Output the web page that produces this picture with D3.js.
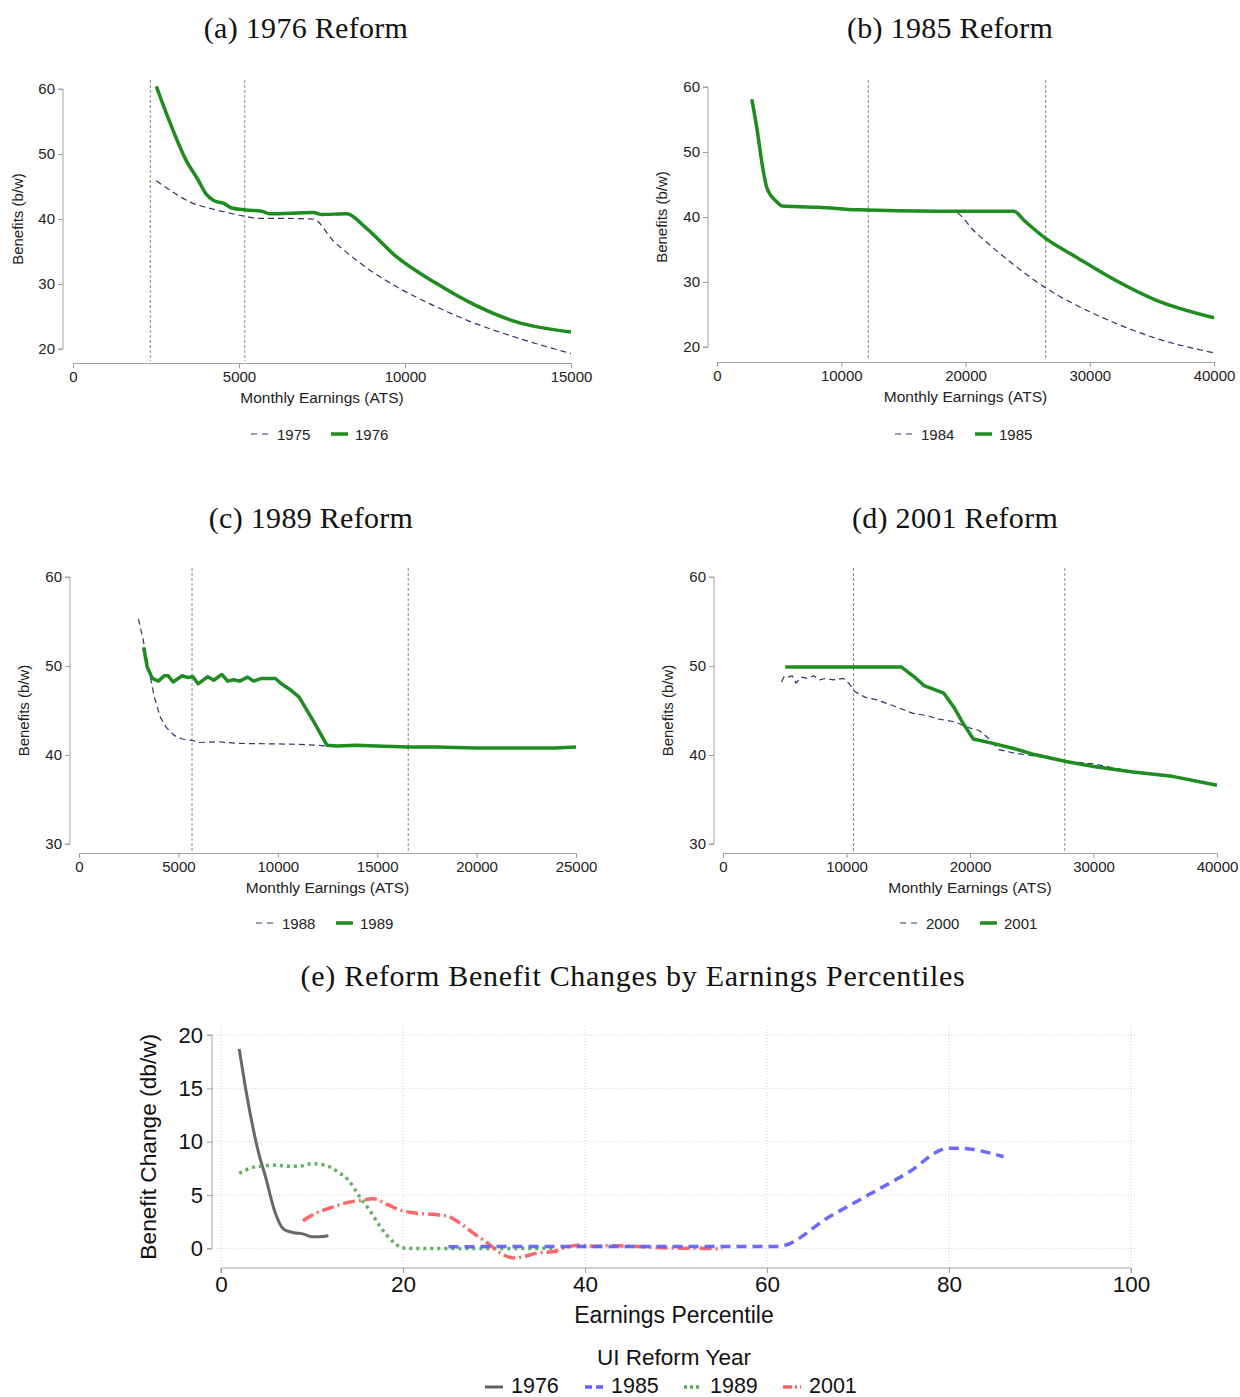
<!DOCTYPE html>
<html>
<head>
<meta charset="utf-8">
<script src="https://cdn.jsdelivr.net/npm/d3@7"></script>
<style>
  html, body { margin: 0; padding: 0; background: #fff; }
  svg { display: block; }
</style>
</head>
<body>
<svg id="chart" width="1240" height="1397"></svg>
<script>
// ---------------- DATA ----------------
// Panel (a) 1976 Reform
const a1975X = [2510, 2930, 3530, 4240, 5200, 5560, 6160, 7230, 7830, 8550, 9740, 10940, 12130, 13330, 15000];
const a1975Y = [45.9, 44.4, 42.6, 41.5, 40.4, 40.1, 40.1, 40.0, 36.7, 33.6, 29.6, 26.5, 23.9, 21.8, 19.3];
const a1976X = [2510, 2930, 3400, 3770, 4000, 4250, 4540, 4780, 5200, 5680, 5920, 7230, 7470, 8250, 8790, 9740, 10940, 12130, 13330, 15000];
const a1976Y = [60.4, 54.7, 49.1, 46.0, 43.9, 42.8, 42.4, 41.7, 41.4, 41.2, 40.8, 41.0, 40.7, 40.8, 38.8, 34.2, 30.1, 26.7, 24.2, 22.6];
const aVLines = [2330, 5175];
const aXTicks = [0, 5000, 10000, 15000];
const aYTicks = [20, 30, 40, 50, 60];

// Panel (b) 1985 Reform
const b1984X = [2800, 3190, 3670, 3980, 4300, 4780, 5260, 6220, 8130, 11300, 17700, 18960, 20880, 24060, 26450, 28850, 32030, 35220, 40000];
const b1984Y = [58.1, 53.9, 47.7, 44.7, 43.4, 42.4, 41.7, 41.6, 41.5, 41.1, 40.9, 40.9, 37.5, 32.4, 29.1, 26.5, 23.7, 21.4, 19.1];
const b1985X = [2800, 3190, 3670, 3980, 4300, 4780, 5260, 6220, 8130, 11300, 17700, 23900, 24700, 26450, 28850, 32030, 35220, 40000];
const b1985Y = [58.1, 53.9, 47.7, 44.7, 43.4, 42.4, 41.7, 41.6, 41.5, 41.1, 40.9, 40.9, 39.5, 36.7, 33.9, 30.3, 27.3, 24.5];
const bVLines = [12175, 26454];
const bXTicks = [0, 10000, 20000, 30000, 40000];
const bYTicks = [20, 30, 40, 50, 60];

// Panel (c) 1989 Reform
const c1988X = [2990, 3230, 3490, 3790, 4090, 4390, 4790, 5190, 5790, 5990, 6980, 7980, 9980, 10970, 11970, 12470, 14000, 17000, 20000, 23000, 25000];
const c1988Y = [55.3, 52.9, 49.9, 46.5, 44.25, 43.1, 42.2, 41.8, 41.6, 41.4, 41.5, 41.3, 41.25, 41.2, 41.1, 41.0, 41.0, 40.9, 40.8, 40.8, 40.8];
const c1989X = [3250, 3430, 3690, 3990, 4290, 4490, 4730, 5190, 5490, 5730, 5990, 6480, 6780, 7180, 7480, 7780, 8080, 8480, 8780, 9180, 9880, 10180, 10680, 11070, 11770, 12470, 12970, 13970, 14960, 16560, 17960, 19950, 21950, 23940, 25000];
const c1989Y = [52.1, 49.9, 48.6, 48.3, 48.9, 48.9, 48.2, 48.9, 48.7, 48.8, 48.0, 48.8, 48.4, 49.05, 48.3, 48.45, 48.3, 48.75, 48.3, 48.6, 48.6, 48.0, 47.25, 46.5, 43.9, 41.1, 41.0, 41.1, 41.0, 40.9, 40.9, 40.8, 40.8, 40.8, 40.9];
const cVLines = [5686, 16560];
const cXTicks = [0, 5000, 10000, 15000, 20000, 25000];
const cYTicks = [30, 40, 50, 60];

// Panel (d) 2001 Reform
const d2000X = [4730, 4950, 5270, 5590, 5910, 6380, 6860, 7340, 7820, 8300, 8940, 9740, 10220, 10700, 11490, 12450, 14050, 15320, 16600, 17240, 18840, 19790, 20750, 21390, 22350, 23620, 25220, 27680, 30010, 33200, 36390, 37990, 40000];
const d2000Y = [48.2, 48.8, 48.75, 48.9, 48.1, 48.75, 48.6, 48.9, 48.45, 48.6, 48.45, 48.6, 48.0, 47.1, 46.5, 46.2, 45.4, 44.7, 44.4, 44.1, 43.7, 43.1, 42.75, 42.0, 40.6, 40.2, 39.9, 39.3, 39.0, 38.1, 37.55, 37.1, 36.6];
const d2001X = [5040, 14430, 15640, 16280, 17880, 18680, 19470, 20270, 22030, 23620, 25220, 27680, 30010, 33200, 36390, 40000];
const d2001Y = [49.9, 49.9, 48.6, 47.8, 46.95, 45.4, 43.5, 41.8, 41.25, 40.7, 40.05, 39.3, 38.7, 38.1, 37.6, 36.6];
const dVLines = [10567, 27678];
const dXTicks = [0, 10000, 20000, 30000, 40000];
const dYTicks = [30, 40, 50, 60];

// Panel (e) Reform benefit changes by earnings percentile
const e1976X = [2.0, 2.6, 3.35, 4.15, 4.9, 5.9, 6.9, 7.9, 9.1, 10.0, 10.8, 11.8];
const e1976Y = [18.7, 15.5, 12.0, 8.9, 6.7, 3.5, 1.8, 1.5, 1.35, 1.1, 1.1, 1.2];
const e1985X = [25, 30, 35, 40, 45, 50, 55, 61.2, 66.9, 71.1, 75.4, 80, 80.9, 86];
const e1985Y = [0.16, 0.18, 0.18, 0.19, 0.19, 0.18, 0.18, 0.19, 3.0, 5.0, 7.05, 9.4, 9.4, 8.6];
const e1989X = [2.0, 3.0, 4.1, 6.1, 7.3, 8.5, 10.0, 11.8, 12.8, 14.0, 15.2, 16.4, 17.5, 19.1, 19.9, 21.5, 25.4, 29.4, 33.3, 36.8];
const e1989Y = [7.05, 7.45, 7.7, 7.8, 7.7, 7.7, 7.95, 7.7, 7.2, 6.4, 4.9, 3.5, 2.05, 0.5, 0.05, 0, 0, 0, 0, 0.03];
const e2001X = [9.0, 10.4, 12.0, 13.6, 15.2, 16.75, 18.3, 19.9, 21.5, 23.4, 25.0, 26.2, 27.8, 29.4, 30.9, 32.3, 33.3, 34.9, 36.5, 38.0, 39.2, 41.2, 42.4, 45.8, 47.9, 50.0, 52.1, 55.1];
const e2001Y = [2.6, 3.3, 3.8, 4.25, 4.5, 4.65, 4.1, 3.55, 3.3, 3.2, 3.0, 2.4, 1.4, 0.44, -0.53, -0.9, -0.75, -0.4, -0.3, 0.12, 0.3, 0.2, 0.25, 0.19, 0.09, 0.03, 0.03, -0.06];
const eXTicks = [0, 20, 40, 60, 80, 100];
const eYTicks = [0, 5, 10, 15, 20];
const eSeriesNames = ["1976", "1985", "1989", "2001"];

// ---------------- DRAW ----------------
const svg = d3.select("#chart");
const SANS = "'Liberation Sans', Arial, sans-serif";
const SERIF = "'Liberation Serif', 'Times New Roman', serif";
const AXIS_COL = "#a0a0a0";
const GREEN = "#1e8c1e";
const NAVY = "#2a3866";

function zip(xs, ys) { return xs.map((x, i) => ({x: x, y: ys[i]})); }

function reformPanel(cfg) {
  const g = svg.append("g");
  const x = d3.scaleLinear().domain(cfg.xDomain).range([cfg.x0, cfg.x1]);
  const y = d3.scaleLinear().domain(cfg.yDomain).range([cfg.yBot, cfg.yTop]);

  // title
  g.append("text").attr("x", cfg.titleX).attr("y", cfg.titleY)
    .attr("text-anchor", "middle").attr("font-family", SERIF)
    .attr("font-size", 30).attr("letter-spacing", 0.3).attr("fill", "#111").text(cfg.title);

  // y axis
  const yAx = g.append("g").attr("transform", `translate(${cfg.yAxisX},0)`)
    .call(d3.axisLeft(y).tickValues(cfg.yTicks).tickSize(5).tickPadding(3).tickFormat(d3.format("d")));
  yAx.select(".domain").attr("stroke", AXIS_COL).attr("d", `M-5,${y(cfg.yTicks[cfg.yTicks.length-1])}H0V${y(cfg.yTicks[0])}H-5`);
  yAx.selectAll(".tick line").attr("stroke", AXIS_COL);
  yAx.selectAll("text").attr("font-family", SANS).attr("font-size", 15).attr("fill", "#222");

  // x axis
  const xAx = g.append("g").attr("transform", `translate(0,${cfg.xAxisY})`)
    .call(d3.axisBottom(x).tickValues(cfg.xTicks).tickSize(5).tickPadding(3).tickFormat(d3.format("d")));
  xAx.select(".domain").attr("stroke", AXIS_COL);
  xAx.selectAll(".tick line").attr("stroke", AXIS_COL);
  xAx.selectAll("text").attr("font-family", SANS).attr("font-size", 15).attr("fill", "#222");

  // axis titles
  g.append("text").attr("x", (cfg.x0 + cfg.x1) / 2).attr("y", cfg.xAxisY + 40)
    .attr("text-anchor", "middle").attr("font-family", SANS).attr("font-size", 15.5)
    .attr("fill", "#222").text("Monthly Earnings (ATS)");
  g.append("text").attr("transform", `translate(${cfg.yTitleX},${(y(cfg.yDomain[0]) + y(cfg.yDomain[1])) / 2}) rotate(-90)`)
    .attr("text-anchor", "middle").attr("font-family", SANS).attr("font-size", 15)
    .attr("fill", "#222").text("Benefits (b/w)");

  // vertical reference lines
  g.selectAll(".vl").data(cfg.vlines).enter().append("line")
    .attr("x1", d => x(d)).attr("x2", d => x(d))
    .attr("y1", cfg.vTop).attr("y2", cfg.xAxisY - 2)
    .attr("stroke", "#8a8a8a").attr("stroke-width", 1).attr("stroke-dasharray", "3,2");

  const line = d3.line().x(d => x(d.x)).y(d => y(d.y)).curve(d3.curveMonotoneX);
  const lineLin = d3.line().x(d => x(d.x)).y(d => y(d.y));

  g.append("path").datum(zip(cfg.oldX, cfg.oldY)).attr("d", cfg.linear ? lineLin : line)
    .attr("fill", "none").attr("stroke", NAVY).attr("stroke-width", 1.2).attr("stroke-dasharray", "6,4");
  g.append("path").datum(zip(cfg.newX, cfg.newY)).attr("d", cfg.linear ? lineLin : line)
    .attr("fill", "none").attr("stroke", GREEN).attr("stroke-width", 3.5).attr("stroke-linejoin", "round");

  // legend
  const lg = g.append("g").attr("transform", `translate(${cfg.legX},${cfg.legY})`);
  lg.append("line").attr("x1", 0).attr("x2", 19).attr("y1", 0).attr("y2", 0)
    .attr("stroke", NAVY).attr("stroke-width", 1.2).attr("stroke-dasharray", "6,5");
  lg.append("text").attr("x", 26).attr("y", 5.5).attr("font-family", SANS).attr("font-size", 15)
    .attr("fill", "#222").text(cfg.oldName);
  lg.append("line").attr("x1", 80).attr("x2", 97).attr("y1", 0).attr("y2", 0)
    .attr("stroke", GREEN).attr("stroke-width", 3.5);
  lg.append("text").attr("x", 104).attr("y", 5.5).attr("font-family", SANS).attr("font-size", 15)
    .attr("fill", "#222").text(cfg.newName);
}

reformPanel({
  title: "(a) 1976 Reform", titleX: 306, titleY: 38,
  xDomain: [0, 15000], yDomain: [20, 60], x0: 73, x1: 571, yBot: 349, yTop: 89,
  yAxisX: 63, xAxisY: 363, yTitleX: 23, vTop: 80,
  xTicks: aXTicks, yTicks: aYTicks, vlines: aVLines,
  oldX: a1975X, oldY: a1975Y, newX: a1976X, newY: a1976Y, oldName: "1975", newName: "1976",
  legX: 251, legY: 434
});
reformPanel({
  title: "(b) 1985 Reform", titleX: 950, titleY: 38,
  xDomain: [0, 40000], yDomain: [20, 60], x0: 717, x1: 1214, yBot: 347, yTop: 87,
  yAxisX: 708, xAxisY: 362, yTitleX: 667, vTop: 80,
  xTicks: bXTicks, yTicks: bYTicks, vlines: bVLines,
  oldX: b1984X, oldY: b1984Y, newX: b1985X, newY: b1985Y, oldName: "1984", newName: "1985",
  legX: 895, legY: 434
});
reformPanel({
  title: "(c) 1989 Reform", titleX: 311, titleY: 528,
  xDomain: [0, 25000], yDomain: [30, 60], x0: 79, x1: 576, yBot: 844, yTop: 577,
  yAxisX: 70, xAxisY: 853, yTitleX: 29, vTop: 568, linear: true,
  xTicks: cXTicks, yTicks: cYTicks, vlines: cVLines,
  oldX: c1988X, oldY: c1988Y, newX: c1989X, newY: c1989Y, oldName: "1988", newName: "1989",
  legX: 256, legY: 923
});
reformPanel({
  title: "(d) 2001 Reform", titleX: 955, titleY: 528,
  xDomain: [0, 40000], yDomain: [30, 60], x0: 723, x1: 1217, yBot: 844, yTop: 577,
  yAxisX: 714, xAxisY: 853, yTitleX: 673, vTop: 568, linear: true,
  xTicks: dXTicks, yTicks: dYTicks, vlines: dVLines,
  oldX: d2000X, oldY: d2000Y, newX: d2001X, newY: d2001Y, oldName: "2000", newName: "2001",
  legX: 900, legY: 923
});

// ---- Panel (e) ----
(function () {
  const g = svg.append("g");
  const x = d3.scaleLinear().domain([0, 100]).range([221, 1131]);
  const y = d3.scaleLinear().domain([0, 20]).range([1248.5, 1035]);

  g.append("text").attr("x", 633).attr("y", 986).attr("text-anchor", "middle")
    .attr("font-family", SERIF).attr("font-size", 30).attr("letter-spacing", 0.7).attr("fill", "#111")
    .text("(e) Reform Benefit Changes by Earnings Percentiles");

  // grid
  g.selectAll(".hg").data(eYTicks).enter().append("line")
    .attr("x1", 213).attr("x2", 1136).attr("y1", d => y(d)).attr("y2", d => y(d))
    .attr("stroke", "#d4d4d4").attr("stroke-width", 1).attr("stroke-dasharray", "1,2");
  g.selectAll(".vg").data(eXTicks).enter().append("line")
    .attr("x1", d => x(d)).attr("x2", d => x(d)).attr("y1", 1026).attr("y2", 1266)
    .attr("stroke", "#d4d4d4").attr("stroke-width", 1).attr("stroke-dasharray", "1,2");

  const yAx = g.append("g").attr("transform", "translate(212,0)")
    .call(d3.axisLeft(y).tickValues(eYTicks).tickSize(5).tickPadding(4));
  yAx.select(".domain").attr("stroke", AXIS_COL).attr("d", `M-5,${y(20)}H0V${y(0)}H-5`);
  yAx.selectAll(".tick line").attr("stroke", AXIS_COL);
  yAx.selectAll("text").attr("font-family", SANS).attr("font-size", 22).attr("fill", "#111");

  const xAx = g.append("g").attr("transform", "translate(0,1268)")
    .call(d3.axisBottom(x).tickValues(eXTicks).tickSize(5).tickPadding(3));
  xAx.select(".domain").attr("stroke", AXIS_COL).attr("d", `M${x(0)},5V0H${x(100)}V5`);
  xAx.selectAll(".tick line").attr("stroke", AXIS_COL);
  xAx.selectAll("text").attr("font-family", SANS).attr("font-size", 22.5).attr("fill", "#111");

  g.append("text").attr("x", 674).attr("y", 1323).attr("text-anchor", "middle")
    .attr("font-family", SANS).attr("font-size", 23).attr("fill", "#111").text("Earnings Percentile");
  g.append("text").attr("transform", `translate(156,${(y(0) + y(20)) / 2 + 5}) rotate(-90)`)
    .attr("text-anchor", "middle").attr("font-family", SANS).attr("font-size", 22.7)
    .attr("fill", "#111").text("Benefit Change (db/w)");

  const styles = [
    {xs: e1976X, ys: e1976Y, color: "#606060", width: 3, dash: null},
    {xs: e1985X, ys: e1985Y, color: "#6262ff", width: 3.5, dash: "10,6"},
    {xs: e1989X, ys: e1989Y, color: "#55ad55", width: 3.5, dash: "3,4"},
    {xs: e2001X, ys: e2001Y, color: "#ff5f5f", width: 3.5, dash: "12,4,2,4"}
  ];
  const line = d3.line().x(d => x(d.x)).y(d => y(d.y)).curve(d3.curveMonotoneX);
  // draw order: 1976, 1989, 2001, 1985 on top
  [0, 2, 3, 1].forEach(i => {
    const s = styles[i];
    const p = g.append("path").datum(zip(s.xs, s.ys)).attr("d", line)
      .attr("fill", "none").attr("stroke", s.color).attr("stroke-width", s.width)
      .attr("stroke-opacity", 0.95);
    if (s.dash) p.attr("stroke-dasharray", s.dash);
  });

  // legend
  g.append("text").attr("x", 674).attr("y", 1365).attr("text-anchor", "middle")
    .attr("font-family", SANS).attr("font-size", 22.5).attr("fill", "#111").text("UI Reform Year");
  const legStarts = [485, 585, 684, 783];
  eSeriesNames.forEach((name, i) => {
    const s = styles[i];
    const l = g.append("line").attr("x1", legStarts[i]).attr("x2", legStarts[i] + 18)
      .attr("y1", 1387).attr("y2", 1387).attr("stroke", s.color).attr("stroke-width", s.width);
    if (s.dash) l.attr("stroke-dasharray", i === 1 ? "7,4" : (i === 2 ? "3,3" : "9,3,2,3"));
    g.append("text").attr("x", legStarts[i] + 26).attr("y", 1393)
      .attr("font-family", SANS).attr("font-size", 21.5).attr("fill", "#111").text(name);
  });
})();
</script>
</body>
</html>
